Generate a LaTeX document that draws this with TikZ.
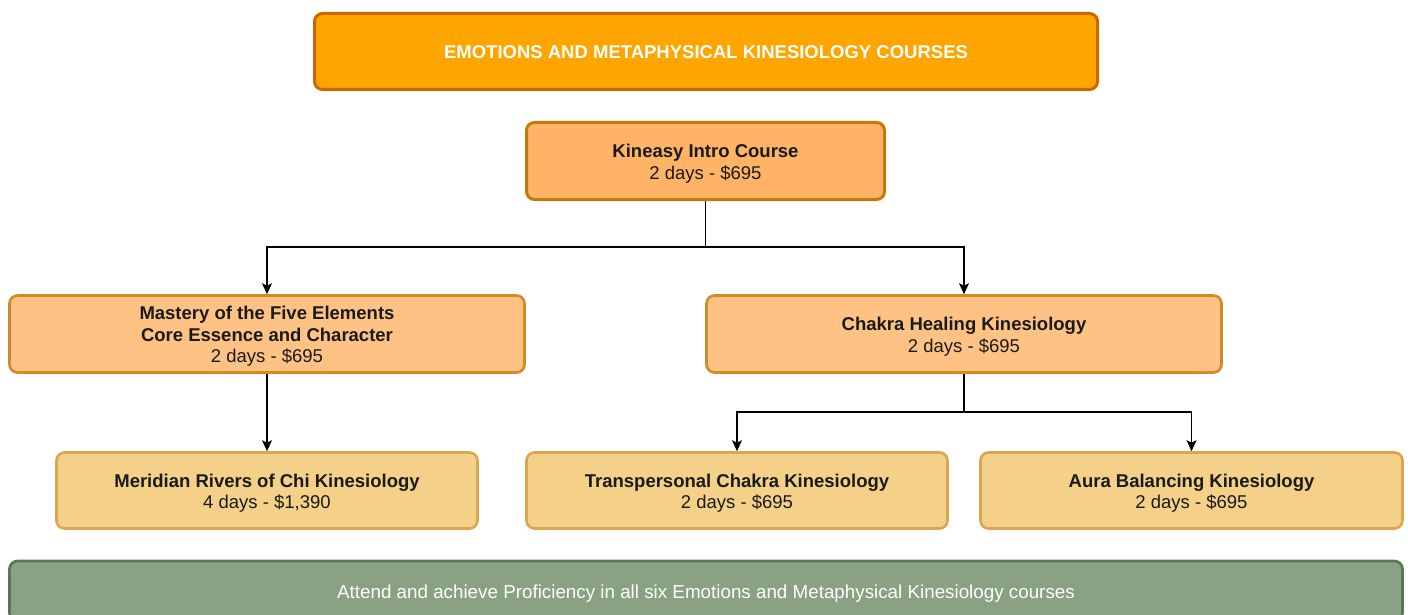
\documentclass[tikz,border=0pt]{standalone}
\usepackage{fontspec}
\setmainfont{Liberation Sans}
\usetikzlibrary{arrows.meta}
\definecolor{titlefill}{HTML}{FFA500}
\definecolor{titledraw}{HTML}{CC6600}
\definecolor{introfill}{HTML}{FFB366}
\definecolor{introdraw}{HTML}{C47A0A}
\definecolor{midfill}{HTML}{FFC285}
\definecolor{middraw}{HTML}{D08A2A}
\definecolor{lowfill}{HTML}{F4D088}
\definecolor{lowdraw}{HTML}{DCA650}
\definecolor{greenfill}{HTML}{88A283}
\definecolor{greendraw}{HTML}{587850}
\definecolor{txt}{HTML}{1A1A1A}
\tikzset{
  box/.style={rectangle, rounded corners=8pt, inner sep=0pt},
  label/.style={align=center, inner sep=0pt, font=\fontsize{18.5}{21.5}\selectfont, text=txt},
  wlabel/.style={label, text=white},
  titlebox/.style={box, fill=titlefill, draw=titledraw, line width=3pt},
  introbox/.style={box, fill=introfill, draw=introdraw, line width=3pt},
  midbox/.style={box, fill=midfill, draw=middraw, line width=2.6pt},
  lowbox/.style={box, fill=lowfill, draw=lowdraw, line width=2.6pt},
  greenbox/.style={box, fill=greenfill, draw=greendraw, line width=2.6pt},
  arr/.style={-{Stealth[length=11pt,width=10pt,inset=2.5pt]}, line width=1.3pt, black},
  link/.style={line width=1.3pt, black}
}
\begin{document}
\begin{tikzpicture}[x=1pt,y=-1pt]
\useasboundingbox (0,0) rectangle (1408,615);
\clip (0,0) rectangle (1408,615);
\node[titlebox, minimum width=783pt, minimum height=76pt] (title) at (706,51.5) {};
\node[wlabel] (title-t) at ([yshift=-1pt]title.center)
  {\textbf{EMOTIONS AND METAPHYSICAL KINESIOLOGY COURSES}};
\node[introbox, minimum width=358pt, minimum height=77pt] (intro) at (705.5,161) {};
\node[label] (intro-t) at ([yshift=-2.5pt]intro.center)
  {\textbf{Kineasy Intro Course}\\2 days - \$695};
\node[midbox, minimum width=515pt, minimum height=77pt] (five) at (267,334) {};
\node[label] (five-t) at ([yshift=-2.5pt]five.center)
  {\textbf{Mastery of the Five Elements}\\\textbf{Core Essence and Character}\\2 days - \$695};
\node[midbox, minimum width=515pt, minimum height=77pt] (chakra) at (964,334) {};
\node[label] (chakra-t) at ([yshift=-2.5pt]chakra.center)
  {\textbf{Chakra Healing Kinesiology}\\2 days - \$695};
\node[lowbox, minimum width=421pt, minimum height=76pt] (meridian) at (267,490.5) {};
\node[label] (meridian-t) at ([yshift=-2.5pt]meridian.center)
  {\textbf{Meridian Rivers of Chi Kinesiology}\\4 days - \$1,390};
\node[lowbox, minimum width=421pt, minimum height=76pt] (trans) at (737,490.5) {};
\node[label] (trans-t) at ([yshift=-2.5pt]trans.center)
  {\textbf{Transpersonal Chakra Kinesiology}\\2 days - \$695};
\node[lowbox, minimum width=422pt, minimum height=76pt] (aura) at (1191.5,490.5) {};
\node[label] (aura-t) at ([yshift=-2.5pt]aura.center)
  {\textbf{Aura Balancing Kinesiology}\\2 days - \$695};
\node[greenbox, minimum width=1393pt, minimum height=60pt] (goal) at (706,591) {};
\node[wlabel, font=\fontsize{18.8}{22}\selectfont] (goal-t) at ([yshift=-2.5pt]goal.center)
  {Attend and achieve Proficiency in all six Emotions and Metaphysical Kinesiology courses};
\coordinate (j1) at (705.5,247);
\coordinate (j2) at (964,412);
\draw[link] (intro.south) -- (j1);
\draw[arr] (j1) -| (five.north);
\draw[arr] (j1) -| (chakra.north);
\draw[arr] (five.south) -- (meridian.north);
\draw[link] (chakra.south) -- (j2);
\draw[arr] (j2) -| (trans.north);
\draw[arr] (j2) -| (aura.north);
\end{tikzpicture}
\end{document}
